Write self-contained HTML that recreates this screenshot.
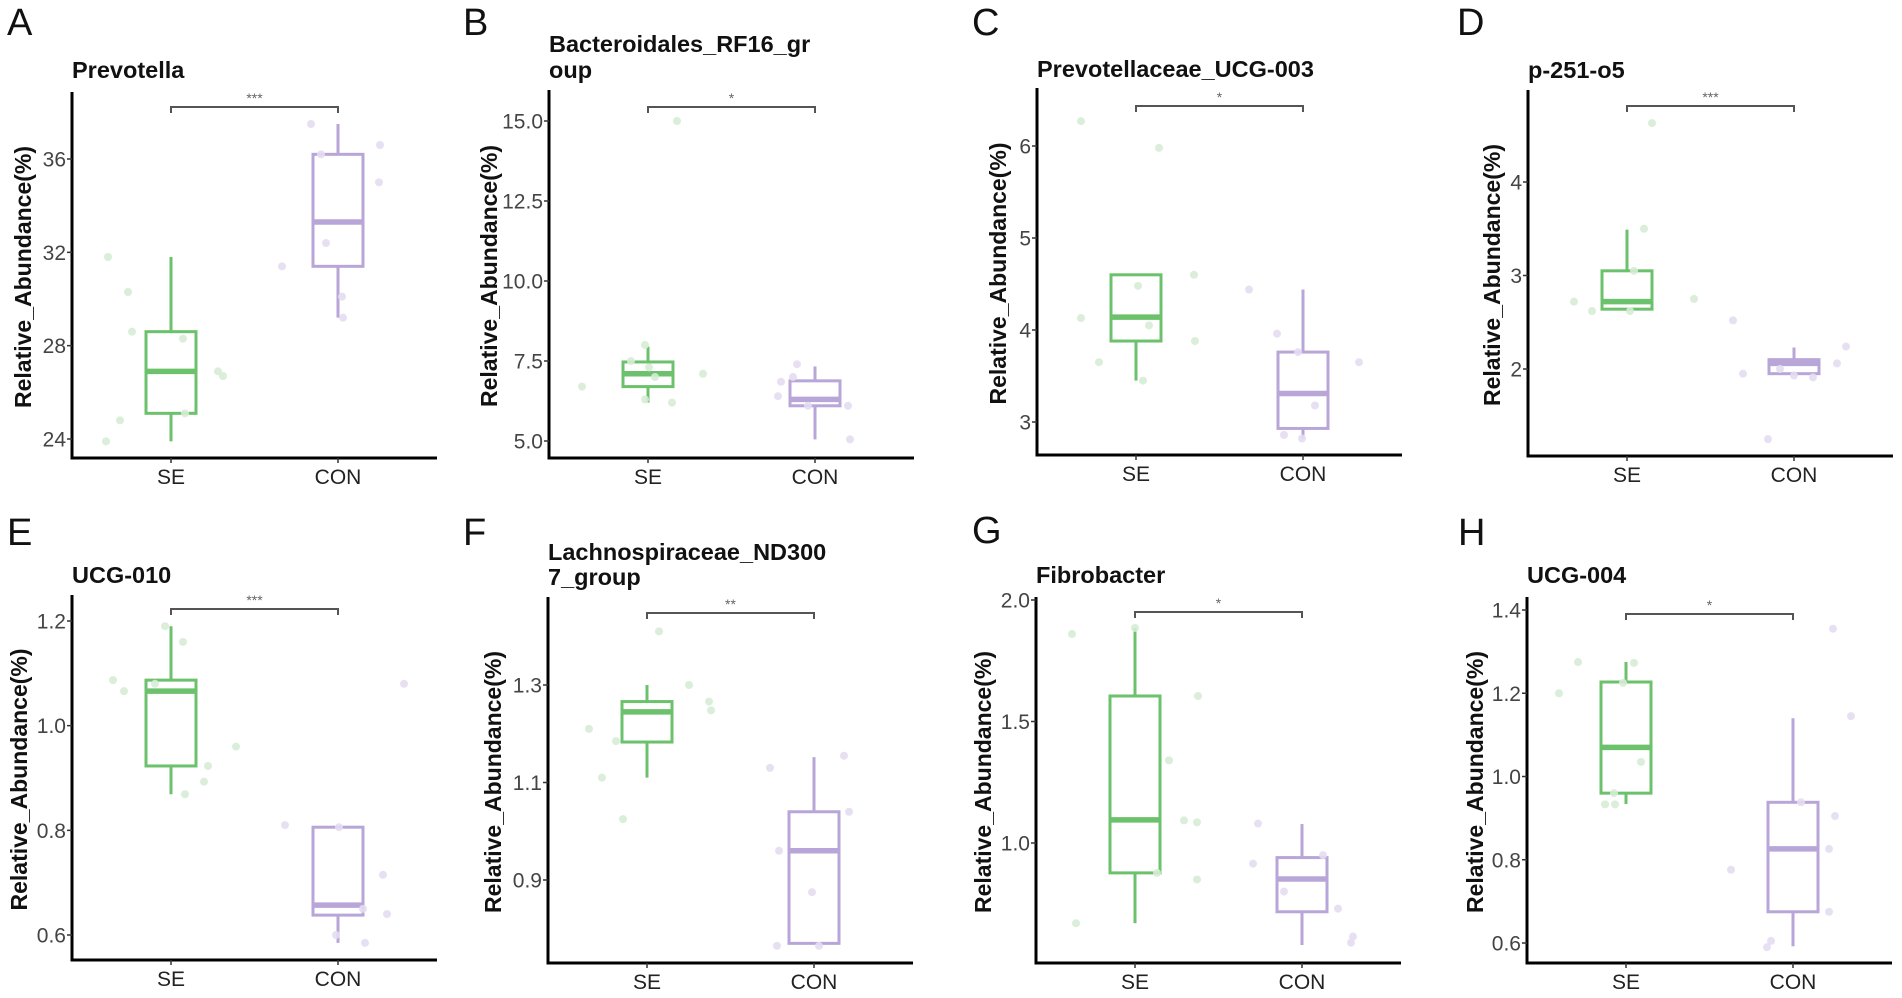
<!DOCTYPE html>
<html><head><meta charset="utf-8">
<style>
html,body{margin:0;padding:0;background:#fff;}
svg{display:block;font-family:"Liberation Sans",Arial,sans-serif;}
</style></head>
<body>
<svg id="fig" width="1902" height="998" viewBox="0 0 1902 998" xmlns="http://www.w3.org/2000/svg"></svg>
<script>
// ---- data ----
const panelLetters = ["A","B","C","D","E","F","G","H"];
const titles = [["Prevotella"],["Bacteroidales_RF16_gr","oup"],["Prevotellaceae_UCG-003"],["p-251-o5"],["UCG-010"],["Lachnospiraceae_ND300","7_group"],["Fibrobacter"],["UCG-004"]];
const sigLabels = ["***","*","*","***","***","**","*","*"];
const categories = ["SE","CON"];
const tickValues = [[24,28,32,36],[5,7.5,10,12.5,15],[3,4,5,6],[2,3,4],[0.6,0.8,1.0,1.2],[0.9,1.1,1.3],[1.0,1.5,2.0],[0.6,0.8,1.0,1.2,1.4]];
const tickLabels = [["24","28","32","36"],["5.0","7.5","10.0","12.5","15.0"],["3","4","5","6"],["2","3","4"],["0.6","0.8","1.0","1.2"],["0.9","1.1","1.3"],["1.0","1.5","2.0"],["0.6","0.8","1.0","1.2","1.4"]];
// box stats: [lowerWhisker, q1, median, q3, upperWhisker]
const seBox = [[23.9,25.1,26.9,28.6,31.8],[6.2,6.7,7.1,7.47,7.95],[3.45,3.88,4.14,4.6,4.6],[2.62,2.64,2.72,3.05,3.49],[0.869,0.923,1.066,1.087,1.19],[1.11,1.183,1.245,1.266,1.3],[0.67,0.877,1.095,1.605,1.885],[0.934,0.96,1.07,1.227,1.275]];
const conBox = [[29.2,31.4,33.3,36.2,37.5],[5.05,6.1,6.3,6.88,7.33],[2.82,2.93,3.31,3.76,4.44],[1.93,1.95,2.06,2.1,2.23],[0.585,0.638,0.657,0.806,0.806],[0.77,0.77,0.96,1.04,1.152],[0.58,0.717,0.852,0.94,1.078],[0.592,0.675,0.826,0.938,1.14]];
const sePoints = [[31.8,30.3,28.6,28.3,26.9,26.7,24.8,25.1,23.9],[15.0,8.0,7.5,7.3,7.0,7.1,6.7,6.3,6.2],[6.27,5.98,4.48,4.6,4.13,4.05,3.88,3.65,3.45],[4.63,3.5,3.05,2.72,2.62,2.62,2.75],[1.19,1.16,1.087,1.066,1.08,0.96,0.923,0.893,0.869],[1.41,1.30,1.266,1.248,1.21,1.185,1.11,1.025],[1.86,1.885,1.605,1.34,1.093,1.085,0.877,0.85,0.67],[1.275,1.273,1.2,1.225,1.035,0.96,0.933,0.933]];
const seJitter = [[-63,-43,-39,12,47,52,-51,14,-65],[29,-3,-17,1,7,55,-66,-3,24],[-55,23,2,58,-55,13,59,-37,7],[25,17,7,-53,-35,3,67],[-6,12,-58,-47,-16,65,37,33,14],[12,42,62,64,-58,-31,-45,-24],[-63,0,63,34,49,62,22,62,-59],[-48,8,-67,-3,15,-12,-21,-11]];
const conPoints = [[37.5,36.2,36.6,35.0,32.4,31.4,30.1,29.2],[7.4,6.85,7.0,6.4,6.1,6.1,5.05],[4.44,3.96,3.76,3.65,3.18,2.86,2.82],[2.52,1.95,2.0,1.91,2.06,2.24,1.25,1.93],[0.81,0.806,1.08,0.715,0.64,0.65,0.6,0.585],[1.155,1.13,1.04,0.96,0.875,0.765,0.765],[1.08,0.915,0.95,0.8,0.73,0.615,0.59],[1.355,1.145,0.938,0.905,0.826,0.776,0.675,0.605,0.59]];
const conJitter = [[-27,-17,42,41,-12,-56,4,5],[-18,-34,-22,-37,-7,33,35],[-54,-26,-5,56,12,-19,-1],[-61,-51,-14,19,43,52,-26,0],[-53,1,66,45,49,25,-2,27],[30,-44,35,-35,-2,-37,5],[-44,-49,21,-18,36,51,49],[40,58,8,42,36,-62,36,-22,-26]];

// ---- layout (pixel geometry, not data) ----
const layout = [
 {ax:72,  bot:458, top:92, v1:36,  p1:159, v2:24,  p2:439, lx:23,  ty:[78],     br:107, letter:[7,35]},
 {ax:549, bot:458, top:90, v1:15,  p1:121, v2:5,   p2:441, lx:489, ty:[52,78],  br:107, letter:[463,35]},
 {ax:1037,bot:455, top:88, v1:6,   p1:146, v2:3,   p2:422, lx:998, ty:[77],     br:106, letter:[972,35]},
 {ax:1528,bot:456, top:90, v1:4,   p1:182, v2:2,   p2:369, lx:1492,ty:[78],     br:106, letter:[1457,35]},
 {ax:72,  bot:960, top:595,v1:1.2, p1:621, v2:0.6, p2:935, lx:19,  ty:[583],    br:609, letter:[7,545]},
 {ax:548, bot:963, top:597,v1:1.3, p1:685, v2:0.9, p2:880, lx:493, ty:[560,585],br:613, letter:[463,545]},
 {ax:1036,bot:963, top:597,v1:2.0, p1:600, v2:1.0, p2:843, lx:983, ty:[583],    br:612, letter:[972,543]},
 {ax:1527,bot:963, top:597,v1:1.4, p1:610, v2:0.6, p2:943, lx:1475,ty:[583],    br:614, letter:[1458,545]}
];
const GREEN="#6cc16c", PURPLE="#b8a6d9", GPT="#d6ecd5", PPT="#e4ddf1";
const NS="http://www.w3.org/2000/svg";
const svg=document.getElementById("fig");
function mk(tag, attrs, parent){
  const e=document.createElementNS(NS,tag);
  for(const k in attrs) e.setAttribute(k,attrs[k]);
  (parent||svg).appendChild(e); return e;
}

for(let i=0;i<8;i++){
  const L=layout[i];
  const g=mk("g",{});
  
  
  const yScale=v=>L.p1+(v-L.v1)*(L.p2-L.p1)/(L.v2-L.v1);
  const xScale=c=>L.ax+(c===0?99:266);
  const right=L.ax+365;

  const letter=mk("text",{x:L.letter[0],y:L.letter[1],"font-size":38,fill:"#111"},g);
  letter.textContent=panelLetters[i];
  
  

  L.ty.forEach((ty,j)=>{
    const t=mk("text",{x:L.ax,y:ty,"font-size":23.5,"font-weight":"bold",fill:"#111"},g);
    t.textContent=titles[i][j];
    
    
  });

  // axes
  const ya=mk("line",{x1:L.ax,y1:L.top,x2:L.ax,y2:L.bot+1.5,stroke:"#000","stroke-width":3},g);
  
  
  const xa=mk("line",{x1:L.ax-1.5,y1:L.bot,x2:right,y2:L.bot,stroke:"#000","stroke-width":3},g);
  
  

  tickValues[i].forEach((v,k)=>{
    const y=yScale(v);
    const tk=mk("line",{x1:L.ax-5,y1:y,x2:L.ax,y2:y,stroke:"#333","stroke-width":1.5},g);
    
    
    const tl=mk("text",{x:L.ax-6,y:y+7.5,"font-size":21,fill:"#444","text-anchor":"end"},g);
    tl.textContent=tickLabels[i][k];
    
    
  });
  categories.forEach((c,k)=>{
    const x=xScale(k);
    const tk=mk("line",{x1:x,y1:L.bot,x2:x,y2:L.bot+5,stroke:"#333","stroke-width":1.5},g);
    
    
    const tl=mk("text",{x:x,y:L.bot+26,"font-size":21,fill:"#222","text-anchor":"middle"},g);
    tl.textContent=c;
    
    
  });
  const cy=(L.top+L.bot)/2+2;
  const yt=mk("text",{x:L.lx,y:cy,"font-size":23,"font-weight":"bold",fill:"#111","text-anchor":"middle",transform:`rotate(-90 ${L.lx} ${cy})`,"dominant-baseline":"central"},g);
  yt.textContent="Relative_Abundance(%)";
  
  

  // boxes
  [[seBox[i],GREEN,0],[conBox[i],PURPLE,1]].forEach(([b,col,k])=>{
    const x=xScale(k), hw=25;
    const bg=mk("g",{},g);
    
    
    mk("line",{x1:x,y1:yScale(b[3]),x2:x,y2:yScale(b[4]),stroke:col,"stroke-width":3},bg);
    mk("line",{x1:x,y1:yScale(b[1]),x2:x,y2:yScale(b[0]),stroke:col,"stroke-width":3},bg);
    mk("rect",{x:x-hw,y:yScale(b[3]),width:2*hw,height:yScale(b[1])-yScale(b[3]),fill:"#fff",stroke:col,"stroke-width":3},bg);
    mk("line",{x1:x-hw,y1:yScale(b[2]),x2:x+hw,y2:yScale(b[2]),stroke:col,"stroke-width":5.5},bg);
  });
  // points
  [[sePoints[i],seJitter[i],GPT,0],[conPoints[i],conJitter[i],PPT,1]].forEach(([pts,jit,col,k])=>{
    pts.forEach((v,j)=>{
      const c=mk("circle",{cx:xScale(k)+jit[j],cy:yScale(v),r:4,fill:col,"fill-opacity":0.9},g);
      
      
    });
  });
  // significance bracket
  const x0=xScale(0), x1=xScale(1);
  const br=mk("path",{d:`M${x0} ${L.br+6}V${L.br}H${x1}V${L.br+6}`,fill:"none",stroke:"#555","stroke-width":2},g);
  
  
  const st=mk("text",{x:(x0+x1)/2,y:L.br-4,"font-size":14,fill:"#666","text-anchor":"middle"},g);
  st.textContent=sigLabels[i];
  
  
}
</script>
</body></html>
